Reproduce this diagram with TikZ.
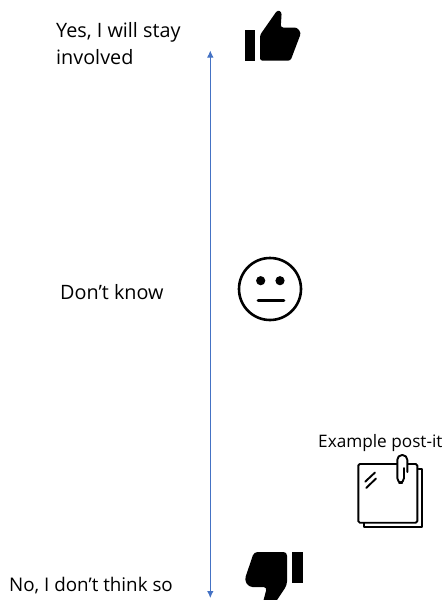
\documentclass[tikz,border=0pt]{standalone}
\usepackage{fontspec}
\setmainfont{Open Sans}
\usetikzlibrary{arrows.meta}
\definecolor{axisblue}{HTML}{4472C4}
\tikzset{
  lbl/.style={inner sep=0pt,anchor=base west,font=\fontsize{19.8}{25}\selectfont,align=left},
  lblb/.style={inner sep=0pt,anchor=base west,font=\fontsize{18.8}{25}\selectfont,align=left},
  small/.style={inner sep=0pt,anchor=base west,font=\fontsize{17.2}{20}\selectfont},
  axis/.style={draw=axisblue,line width=0.9pt,{Latex[length=7pt,width=6.5pt]}-{Latex[length=7pt,width=6.5pt]}},
  solidicon/.style={fill=black,draw=none,rounded corners=2.5pt},
  lineicon/.style={draw=black,line width=1.9pt,fill=none,line cap=round,line join=round},
}
\begin{document}
\begin{tikzpicture}[x=1pt,y=-1pt]
\useasboundingbox (0,0) rectangle (447,600);
\node[lbl] (yes) at (56,37) {Yes, I will stay};
\node[lbl] (inv) at (56,64) {involved};
\node[lbl] (dk) at (60,299) {Don’t know};
\node[lblb] (no) at (9,591) {No, I don’t think so};
\node[small] (ex) at (318,447) {Example post-it};
\coordinate (top) at (210.3,50.5);
\coordinate (bot) at (210.3,598);
\draw[axis] (top) -- (bot);
% thumb up
\fill (245,30) rectangle (255.3,60.7);
\path[solidicon] (260,35) -- (277.5,10) -- (281.7,12) -- (280.7,27.5) -- (297,27.5) -- (301,33) -- (290.5,60.7) -- (260,60.7) -- cycle;
% neutral face
\draw[black,line width=2.6pt] (270,289) circle (31);
\fill (260.7,280.7) circle (4.6);
\fill (280,280.7) circle (4.6);
\draw[black,line width=2.6pt,line cap=round] (258,300.7) -- (284,300.7);
% thumb down
\fill (292,552) rectangle (302.7,583);
\begin{scope}
\clip (240,540) rectangle (310,600);
\path[solidicon,rounded corners=3.5pt] (254,552) -- (287,552) -- (287,585) -- (273,606) -- (262,606) -- (267,587) -- (249,587) -- (244.5,580) -- cycle;
\end{scope}
% post-it
\draw[lineicon] (418.5,469) -- (422.3,469) -- (422.3,527.3) -- (364,527.3) -- (364,523);
\draw[lineicon,rounded corners=1.5pt] (358.3,464) rectangle (417.3,522.7);
\draw[lineicon] (375,472.5) -- (365.2,481.7);
\draw[lineicon] (376,478.5) -- (366.2,488);
\fill[white] (397.3,458) rectangle (407.3,472);
\draw[lineicon,rounded corners=4.8pt] (404,468) -- (404,483) -- (397.3,483) -- (397.3,455) -- (407.3,455) -- (407.3,472);
\end{tikzpicture}
\end{document}
